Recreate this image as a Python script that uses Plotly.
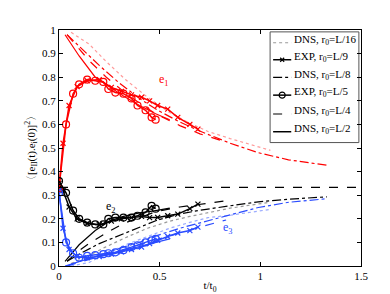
import plotly.graph_objects as go

# ---------------- data ----------------
# DNS r0 = L/2 (solid)
t_dns_L2 = [0.03, 0.10, 0.18, 0.25, 0.32, 0.40, 0.48, 0.55]
e1_dns_L2 = [0.98, 0.89, 0.80, 0.76, 0.72, 0.68, 0.645, 0.62]
e2_dns_L2 = [0.02, 0.09, 0.15, 0.19, 0.21, 0.225, 0.235, 0.245]
e3_dns_L2 = [0.0, 0.02, 0.04, 0.05, 0.065, 0.085, 0.10, 0.115]

# DNS r0 = L/4 (dashed)
t_dns_L4 = [0.04, 0.10, 0.15, 0.235, 0.32, 0.40, 0.48, 0.60, 0.70, 0.83]
e1_dns_L4 = [0.98, 0.92, 0.87, 0.80, 0.74, 0.69, 0.645, 0.595, 0.56, 0.525]
e2_dns_L4 = [0.02, 0.065, 0.096, 0.14, 0.18, 0.205, 0.23, 0.25, 0.262, 0.276]
e3_dns_L4 = [0.0, 0.015, 0.03, 0.05, 0.07, 0.09, 0.11, 0.14, 0.165, 0.195]

# DNS r0 = L/8 (dash-dot)
t_dns_L8 = [0.04, 0.10, 0.20, 0.30, 0.40, 0.49, 0.60, 0.69, 0.85, 0.99, 1.14, 1.33]
e1_dns_L8 = [0.98, 0.93, 0.85, 0.775, 0.71, 0.66, 0.61, 0.575, 0.52, 0.48, 0.45, 0.427]
e2_dns_L8 = [0.02, 0.05, 0.095, 0.13, 0.165, 0.195, 0.22, 0.235, 0.255, 0.272, 0.283, 0.293]
e3_dns_L8 = [0.0, 0.02, 0.045, 0.075, 0.10, 0.13, 0.16, 0.18, 0.215, 0.248, 0.27, 0.285]

# DNS r0 = L/16 (dotted)
t_dns_L16 = [0.06, 0.15, 0.23, 0.33, 0.44, 0.55, 0.65, 0.74, 0.85, 0.95, 1.05]
e1_dns_L16 = [0.99, 0.94, 0.87, 0.79, 0.715, 0.65, 0.605, 0.57, 0.54, 0.515, 0.49]
e2_dns_L16 = [0.01, 0.045, 0.08, 0.12, 0.16, 0.19, 0.21, 0.225, 0.245, 0.258, 0.27]
e3_dns_L16 = [0.0, 0.015, 0.05, 0.09, 0.125, 0.16, 0.185, 0.205, 0.215, 0.227, 0.24]

# EXP r0 = L/5 (circles)
t_exp_L5 = [0.0, 0.035, 0.07, 0.10, 0.14, 0.18, 0.22, 0.245, 0.28, 0.32, 0.36, 0.39, 0.43, 0.46, 0.48]
e1_exp_L5 = [0.33, 0.60, 0.73, 0.77, 0.79, 0.785, 0.78, 0.75, 0.735, 0.73, 0.71, 0.68, 0.66, 0.63, 0.62]
e2_exp_L5 = [0.36, 0.31, 0.235, 0.20, 0.184, 0.176, 0.176, 0.20, 0.205, 0.205, 0.205, 0.213, 0.227, 0.255, 0.243]
e3_exp_L5 = [0.31, 0.10, 0.054, 0.035, 0.043, 0.046, 0.05, 0.054, 0.058, 0.067, 0.08, 0.088, 0.10, 0.109, 0.115]

# EXP r0 = L/9 (x markers)
t_exp_L9 = [0.0, 0.02, 0.05, 0.09, 0.14, 0.20, 0.26, 0.31, 0.36, 0.41, 0.45, 0.49, 0.54, 0.59, 0.65, 0.69]
e1_exp_L9 = [0.33, 0.52, 0.68, 0.76, 0.785, 0.79, 0.757, 0.74, 0.725, 0.715, 0.70, 0.68, 0.665, 0.63, 0.60, 0.58]
e2_exp_L9 = [0.35, 0.32, 0.25, 0.20, 0.18, 0.175, 0.19, 0.20, 0.205, 0.21, 0.205, 0.206, 0.213, 0.22, 0.243, 0.262]
e3_exp_L9 = [0.32, 0.16, 0.07, 0.04, 0.035, 0.04, 0.05, 0.06, 0.07, 0.08, 0.095, 0.109, 0.125, 0.14, 0.15, 0.165]

isotropic_level = 1.0 / 3.0
legend_labels = ["DNS, r<sub>0</sub>=L/16", "EXP, r<sub>0</sub>=L/9", "DNS, r<sub>0</sub>=L/8",
                 "EXP, r<sub>0</sub>=L/5", "DNS, r<sub>0</sub>=L/4", "DNS, r<sub>0</sub>=L/2"]
x_ticks = [0, 0.5, 1, 1.5]
y_ticks = [0, 0.1, 0.2, 0.3, 0.4, 0.5, 0.6, 0.7, 0.8, 0.9, 1]

# ---------------- styling ----------------
FONT = "Liberation Serif, Times New Roman, serif"
RED, BLACK, BLUE = "#ff0000", "#000000", "#2b4cff"
LIGHT = {RED: "#ff9a9a", BLACK: "#999999", BLUE: "#9aaaff"}

fig = go.Figure()

dns_sets = [
    (t_dns_L16, [e1_dns_L16, e2_dns_L16, e3_dns_L16], "dot", True),
    (t_dns_L8, [e1_dns_L8, e2_dns_L8, e3_dns_L8], "dashdot", False),
    (t_dns_L4, [e1_dns_L4, e2_dns_L4, e3_dns_L4], "dash", False),
    (t_dns_L2, [e1_dns_L2, e2_dns_L2, e3_dns_L2], "solid", False),
]
colors = [RED, BLACK, BLUE]
for t, series, dash, light in dns_sets:
    for ys, c in zip(series, colors):
        fig.add_trace(go.Scatter(x=t, y=ys, mode="lines", showlegend=False,
                                 line=dict(color=LIGHT[c] if light else c, width=1.2, dash=dash)))

exp_sets = [
    (t_exp_L9, [e1_exp_L9, e2_exp_L9, e3_exp_L9], "x-thin", 5),
    (t_exp_L5, [e1_exp_L5, e2_exp_L5, e3_exp_L5], "circle-open", 7),
]
for t, series, sym, size in exp_sets:
    for ys, c in zip(series, colors):
        fig.add_trace(go.Scatter(x=t, y=ys, mode="lines+markers", showlegend=False,
                                 line=dict(color=c, width=1.5),
                                 marker=dict(symbol=sym, size=size, color=c,
                                             line=dict(color=c, width=1.2))))

# isotropic reference line
fig.add_trace(go.Scatter(x=[0, 1.5], y=[isotropic_level, isotropic_level], mode="lines",
                         showlegend=False, line=dict(color=BLACK, width=1.3, dash="dash")))

# ---------------- hand-built legend (overlay axes in plot-area fractions) ----------------
legend_styles = [
    dict(line=dict(color="#999999", width=1.2, dash="dot"), symbol=None, size=0),
    dict(line=dict(color=BLACK, width=1.5), symbol="x-thin", size=4),
    dict(line=dict(color=BLACK, width=1.2, dash="dashdot"), symbol=None, size=0),
    dict(line=dict(color=BLACK, width=1.5), symbol="circle-open", size=6),
    dict(line=dict(color=BLACK, width=1.2, dash="dash"), symbol=None, size=0),
    dict(line=dict(color=BLACK, width=1.5), symbol=None, size=0),
]
leg_x0, leg_x1 = 0.699, 0.993
leg_y0, leg_y1 = 0.523, 0.992
sample_x0, sample_x1 = 0.709, 0.769
text_x = 0.771
row_y = [0.946, 0.874, 0.799, 0.724, 0.644, 0.569]

fig.add_shape(type="rect", xref="x2", yref="y2", x0=leg_x0, x1=leg_x1, y0=leg_y0, y1=leg_y1,
              line=dict(color="#555555", width=1), fillcolor="white", layer="below")
for name, st, yy in zip(legend_labels, legend_styles, row_y):
    fig.add_trace(go.Scatter(x=[sample_x0, sample_x1], y=[yy, yy], mode="lines",
                             xaxis="x2", yaxis="y2", showlegend=False, hoverinfo="skip",
                             line=st["line"]))
    if st["symbol"]:
        fig.add_trace(go.Scatter(x=[(sample_x0 + sample_x1) / 2], y=[yy], mode="markers",
                                 xaxis="x2", yaxis="y2", showlegend=False, hoverinfo="skip",
                                 marker=dict(symbol=st["symbol"], size=st["size"], color=BLACK,
                                             line=dict(color=BLACK, width=1.2))))
    fig.add_annotation(x=text_x, y=yy + 0.012, xref="x2", yref="y2", text=name, showarrow=False,
                       xanchor="left", yanchor="middle",
                       font=dict(family=FONT, size=11, color="black"))

fig.add_annotation(x=0.52, y=0.79, text="e<sub>1</sub>", showarrow=False,
                   font=dict(family=FONT, size=12, color=RED))
fig.add_annotation(x=0.26, y=0.25, text="e<sub>2</sub>", showarrow=False,
                   font=dict(family=FONT, size=12, color=BLACK))
fig.add_annotation(x=0.84, y=0.16, text="e<sub>3</sub>", showarrow=False,
                   font=dict(family=FONT, size=12, color=BLUE))

axis_common = dict(showline=True, linecolor="black", linewidth=1, mirror="ticks",
                   ticks="inside", ticklen=4, tickcolor="black", showgrid=False,
                   zeroline=False, tickfont=dict(family=FONT, size=11, color="black"))

fig.update_layout(
    width=390, height=294,
    margin=dict(l=51, r=37, t=22, b=33),
    paper_bgcolor="white", plot_bgcolor="white",
    font=dict(family=FONT, size=11, color="black"),
    showlegend=False,
    xaxis=dict(range=[0, 1.5], tickvals=x_ticks,
               title=dict(text="t/t<sub>0</sub>", standoff=0, font=dict(family=FONT, size=11)),
               **axis_common),
    yaxis=dict(range=[0, 1], tickvals=y_ticks,
               title=dict(text="〈[e<sub>II</sub>(t).e<sub>i</sub>(0)]<sup>2</sup>〉", standoff=4,
                          font=dict(family=FONT, size=11)),
               **axis_common),
    xaxis2=dict(overlaying="x", range=[0, 1], visible=False, fixedrange=True),
    yaxis2=dict(overlaying="y", range=[0, 1], visible=False, fixedrange=True),
)

fig.write_html("out.html")
